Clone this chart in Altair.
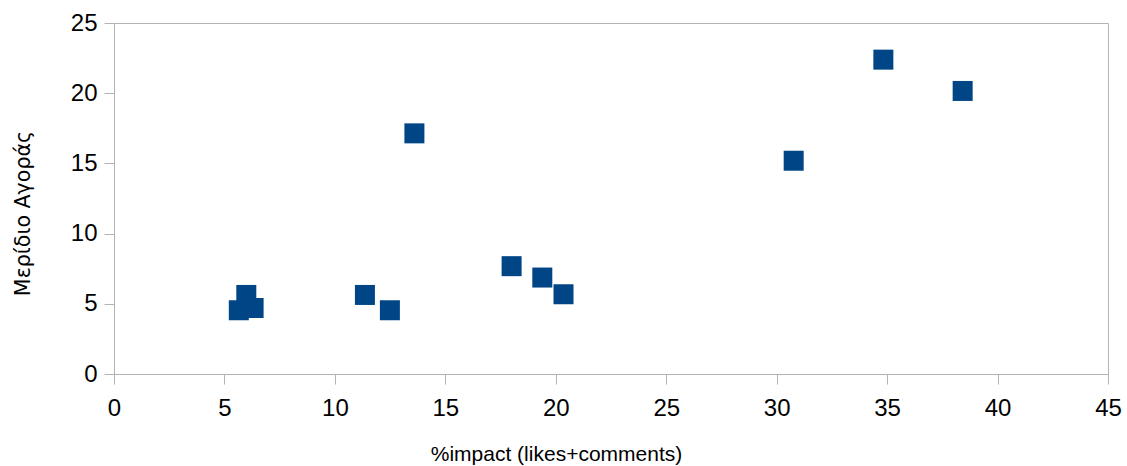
import altair as alt
import pandas as pd

# Engagement (% impact) versus market share for each brand
impact = [5.65, 5.99, 6.32, 11.36, 12.49, 13.6, 18.0, 19.39, 20.35, 30.77, 34.83, 38.42]
share = [4.54, 5.63, 4.70, 5.63, 4.54, 17.14, 7.68, 6.87, 5.68, 15.19, 22.39, 20.16]

x_ticks = [0, 5, 10, 15, 20, 25, 30, 35, 40, 45]
y_ticks = [0, 5, 10, 15, 20, 25]

df = pd.DataFrame({"impact": impact, "share": share})

FONT = "Liberation Sans"
GRAY = "#b3b3b3"

chart = (
    alt.Chart(df)
    .mark_point(shape="square", filled=True, size=400, color="#004586", opacity=1)
    .encode(
        x=alt.X(
            "impact:Q",
            scale=alt.Scale(domain=[0, 45], nice=False, zero=False),
            axis=alt.Axis(
                title="%impact (likes+comments)",
                values=x_ticks,
                grid=False,
                labelFlush=False,
                labelOverlap=False,
                domainColor=GRAY,
                tickColor=GRAY,
                tickSize=10,
                labelPadding=12,
                labelFontSize=24,
                labelColor="#000000",
                labelFont=FONT,
                titleFont=FONT,
                titleFontSize=21,
                titleFontWeight="normal",
                titleColor="#000000",
                titleBaseline="alphabetic",
                titleAlign="center",
                titleX=442,
                titleY=86,
            ),
        ),
        y=alt.Y(
            "share:Q",
            scale=alt.Scale(domain=[0, 25], nice=False, zero=False),
            axis=alt.Axis(
                title="Μερίδιο Αγοράς",
                values=y_ticks,
                grid=False,
                labelFlush=False,
                labelOverlap=False,
                domainColor=GRAY,
                tickColor=GRAY,
                tickSize=10,
                labelPadding=7,
                labelFontSize=24,
                labelColor="#000000",
                labelFont=FONT,
                titleFont="DejaVu Sans",
                titleFontSize=20.6,
                titleFontWeight="normal",
                titleColor="#000000",
                titleAngle=-90,
                titleBaseline="alphabetic",
                titleAlign="center",
                titleX=-85,
                titleY=190,
            ),
        ),
    )
    .properties(
        width=994,
        height=351,
        autosize=alt.AutoSizeParams(type="none"),
        padding={"left": 114, "top": 23, "right": 19, "bottom": 92},
        background="#ffffff",
    )
    .configure_view(stroke=GRAY, strokeWidth=1)
)

chart.save("out.html", embed_options={"renderer": "svg", "actions": False})
